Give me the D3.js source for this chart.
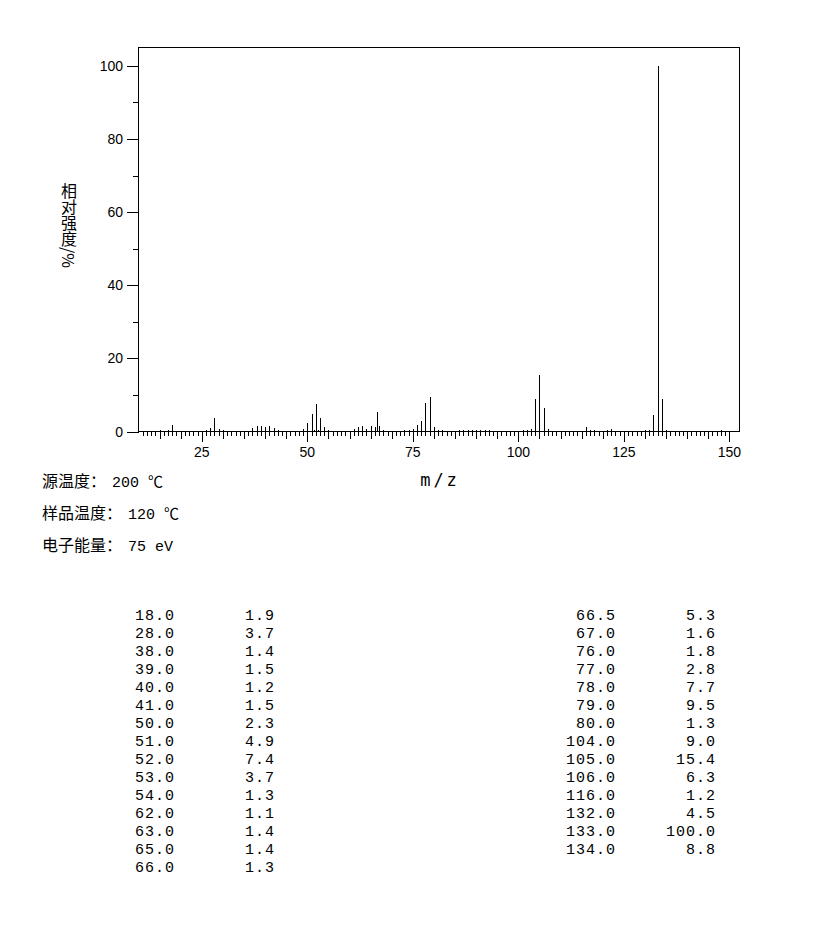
<!DOCTYPE html>
<html>
<head>
<meta charset="utf-8">
<script src="https://cdn.jsdelivr.net/npm/d3@7"></script>
<style>
body { margin: 0; background: #fff; }
</style>
</head>
<body>
<div id="chart"></div>
<script>
// peaks listed in the table
var tableMz = [18.0, 28.0, 38.0, 39.0, 40.0, 41.0, 50.0, 51.0, 52.0, 53.0, 54.0, 62.0, 63.0, 65.0, 66.0,
    66.5, 67.0, 76.0, 77.0, 78.0, 79.0, 80.0, 104.0, 105.0, 106.0, 116.0, 132.0, 133.0, 134.0];
var tableInt = [1.9, 3.7, 1.4, 1.5, 1.2, 1.5, 2.3, 4.9, 7.4, 3.7, 1.3, 1.1, 1.4, 1.4, 1.3,
    5.3, 1.6, 1.8, 2.8, 7.7, 9.5, 1.3, 9.0, 15.4, 6.3, 1.2, 4.5, 100.0, 8.8];

// small peaks seen in the plot but not in the table
var minorMz = [15, 17, 26, 27, 29, 30, 37, 42, 43, 49, 51.5, 52.5, 55, 61, 64, 68, 73, 74, 75, 81, 82,
    86, 87, 88, 89, 90, 91, 92, 93, 101, 102, 103, 107, 117, 118, 121, 122, 130, 131, 135, 148];
var minorInt = [0.3, 0.3, 0.4, 0.9, 0.6, 0.3, 0.9, 0.9, 0.4, 0.6, 0.3, 0.3, 0.3, 0.6, 0.8, 0.3, 0.3, 0.5, 0.7, 0.3, 0.3,
    0.3, 0.3, 0.3, 0.3, 0.3, 0.3, 0.3, 0.3, 0.3, 0.5, 0.6, 0.6, 0.4, 0.4, 0.4, 0.7, 0.4, 0.4, 0.4, 0.4];

var xTicks = [25, 50, 75, 100, 125, 150];
var yTicks = [0, 20, 40, 60, 80, 100];
var yMinor = [10, 30, 50, 70, 90];

var infoLabels = ["源温度：", "样品温度：", "电子能量："];
var infoValues = ["200 ℃", "120 ℃", "75 eV"];
var yTitle = "相对强度/%";

var width = 822;
var height = 935;
var padding = {top: 47, right: 739, left: 138, bottom: 432};

var svg = d3.select("#chart").append("svg").attr("width", width).attr("height", height);

var x = d3.scaleLinear().domain([10, 152.4]).range([padding.left + 0.5, padding.right + 0.5]);
var y = d3.scaleLinear().domain([0, 105]).range([padding.bottom - 0.5, padding.top + 0.5]);

var peaks = [];
tableMz.forEach(function (m, i) { peaks.push({mz: m, v: tableInt[i]}); });
minorMz.forEach(function (m, i) { peaks.push({mz: m, v: minorInt[i]}); });

// 峰
svg.selectAll(".peak")
    .data(peaks)
    .enter()
    .append("line")
    .attr("class", "peak")
    .attr("stroke", "#000")
    .attr("stroke-width", 1)
    .attr("shape-rendering", "crispEdges")
    .attr("x1", function (d) { return Math.round(x(d.mz)) + 0.5; })
    .attr("x2", function (d) { return Math.round(x(d.mz)) + 0.5; })
    .attr("y1", y(0))
    .attr("y2", function (d) { return y(d.v); });

// frame
svg.append("rect")
    .attr("x", padding.left + 0.5)
    .attr("y", padding.top + 0.5)
    .attr("width", padding.right - padding.left)
    .attr("height", padding.bottom - padding.top - 1)
    .attr("fill", "none")
    .attr("stroke", "#000")
    .attr("shape-rendering", "crispEdges");

// x ticks
svg.selectAll(".xtick")
    .data(d3.range(11, 151))
    .enter()
    .append("line")
    .attr("class", "xtick")
    .attr("stroke", "#000")
    .attr("shape-rendering", "crispEdges")
    .attr("x1", function (d) { return Math.round(x(d)) + 0.5; })
    .attr("x2", function (d) { return Math.round(x(d)) + 0.5; })
    .attr("y1", y(0))
    .attr("y2", function (d) {
        if (d % 25 === 0) return y(0) + 10;
        if (d % 5 === 0) return y(0) + 7;
        return y(0) + 4;
    });

svg.selectAll(".xlabel")
    .data(xTicks)
    .enter()
    .append("text")
    .attr("class", "xlabel")
    .attr("font-family", "Liberation Sans, Arial, sans-serif")
    .attr("font-size", "14px")
    .attr("text-anchor", "middle")
    .attr("x", function (d) { return x(d); })
    .attr("y", 457)
    .text(function (d) { return d; });

// y ticks
svg.selectAll(".ytick")
    .data(yTicks.concat(yMinor))
    .enter()
    .append("line")
    .attr("class", "ytick")
    .attr("stroke", "#000")
    .attr("shape-rendering", "crispEdges")
    .attr("x1", padding.left + 0.5)
    .attr("x2", function (d) { return d % 20 === 0 ? padding.left - 11 : padding.left - 5; })
    .attr("y1", function (d) { return Math.round(y(d)) + 0.5; })
    .attr("y2", function (d) { return Math.round(y(d)) + 0.5; });

svg.selectAll(".ylabel")
    .data(yTicks)
    .enter()
    .append("text")
    .attr("class", "ylabel")
    .attr("font-family", "Liberation Sans, Arial, sans-serif")
    .attr("font-size", "14px")
    .attr("text-anchor", "end")
    .attr("x", 123)
    .attr("y", function (d) { return y(d) + 5; })
    .text(function (d) { return d; });

// 纵轴标题 (竖排)
svg.append("text")
    .attr("font-family", "Noto Sans CJK SC, sans-serif")
    .attr("font-size", "16px")
    .attr("x", 69)
    .attr("y", 183)
    .style("writing-mode", "vertical-rl")
    .text(yTitle);

// 横轴标题
svg.append("text")
    .attr("font-family", "DejaVu Sans Mono, monospace")
    .attr("font-size", "17px")
    .attr("letter-spacing", "3px")
    .attr("text-anchor", "middle")
    .attr("x", 440)
    .attr("y", 486)
    .text("m/z");

// 条件
var info = svg.selectAll(".info")
    .data(infoLabels)
    .enter()
    .append("text")
    .attr("class", "info")
    .attr("x", 42)
    .attr("y", function (d, i) { return 487 + i * 32; })
    .attr("xml:space", "preserve");

info.append("tspan")
    .attr("font-family", "Noto Sans CJK SC, sans-serif")
    .attr("font-size", "16px")
    .text(function (d) { return d; });

info.append("tspan")
    .attr("dx", 6)
    .attr("font-family", "Liberation Mono, Noto Sans CJK SC, monospace")
    .attr("font-size", "15px")
    .text(function (d, i) { return infoValues[i]; });

// 数据表
var rows = 15;
var table = svg.selectAll(".row")
    .data(tableMz)
    .enter()
    .append("g")
    .attr("class", "row")
    .attr("font-family", "Liberation Mono, monospace")
    .attr("font-size", "15px")
    .attr("letter-spacing", "1px")
    .attr("text-anchor", "end")
    .attr("transform", function (d, i) {
        var col = i < rows ? 0 : 1;
        var r = i < rows ? i : i - rows;
        return "translate(" + (col * 441) + "," + (620 + r * 18) + ")";
    });

table.append("text")
    .attr("x", 175)
    .text(function (d) { return d.toFixed(1); });

table.append("text")
    .attr("x", 275)
    .text(function (d, i) { return tableInt[i].toFixed(1); });
</script>
</body>
</html>
